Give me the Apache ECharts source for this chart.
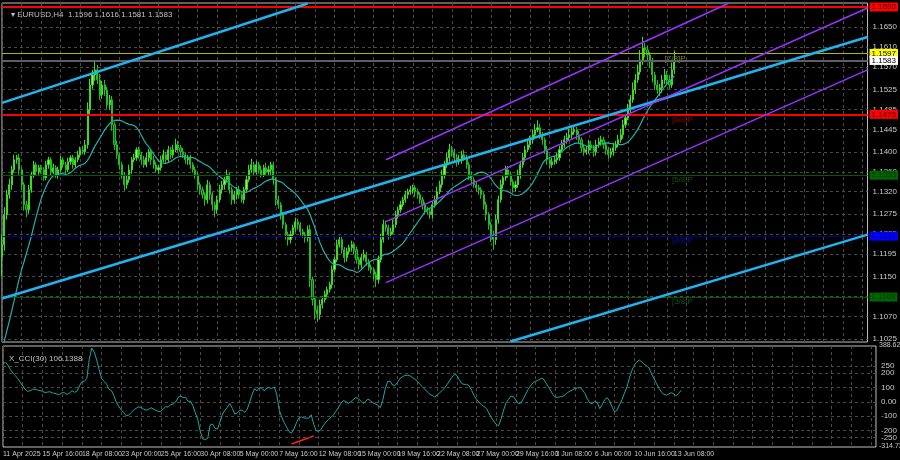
<!DOCTYPE html>
<html><head><meta charset="utf-8">
<script src="https://cdn.jsdelivr.net/npm/echarts@6/dist/echarts.min.js"></script>
<style>html,body{margin:0;padding:0;background:#000}#c{width:900px;height:460px}</style>
</head><body><div id="c"></div>
<script>
// ---- data (prices in pips, 1e-4) ----
const histCloses = [11060,11040,11000,10970,10960,10950,10940,10980,10930,10900,10920,10910,10920,10950,10940,10970,10960,10950,10960,10970,10950,10980,11010,10970,10980,11000,11020,11080,11150,11190];
const closes = [
11214,11274,11314,11334,11364,11384,11388,11364,11334,11294,11284,11324,11354,11374,11360,11368,
11364,11348,11374,11384,11360,11368,11354,11364,11384,11374,11364,11380,11388,11374,11384,11394,11404,11400,11414,
11484,11534,11554,11564,
11544,11514,11534,11524,11494,11504,11454,11414,
11394,11374,11354,11334,11344,11364,11384,11388,11404,11394,11384,11374,11388,11400,11384,11374,11364,11368,11384,11394,11384,11404,11394,
11404,11414,11408,11400,11394,11384,11388,11374,11364,11354,11334,
11324,11314,11304,11334,11314,11294,11284,11304,11324,11334,11344,11354,11324,11304,11314,
11324,11314,11304,11324,11344,11364,11374,11360,11374,11364,11354,11368,11360,11364,11374,
11344,11304,11294,11274,11254,11234,11224,11234,11248,11260,11254,11240,11234,11228,11244,
11144,11104,11084,11074,11094,11104,11114,11124,11134,11164,11184,11214,
11224,11204,11188,11200,11208,11214,11204,11184,11174,11188,11194,11180,11168,11164,11154,11144,11184,11224,
11254,11248,11234,11240,11254,11274,11284,11294,11304,11314,11320,11324,11328,11320,11314,11304,11294,11284,11280,11274,
11294,11304,11320,11334,11354,11374,11388,11404,11400,11388,11380,11384,11394,11388,11374,11354,11344,11334,11328,11324,
11314,11294,11274,11254,11234,11224,11264,11304,11334,11348,11364,
11354,11340,11328,11334,11354,11374,11388,11404,11414,11424,11434,11444,11448,11434,11424,11404,11384,11374,11380,
11384,11388,11404,11414,11424,11428,11434,11440,11444,11434,11424,11408,11400,11404,11414,11408,11400,11414,11420,11424,
11414,11404,11394,11400,11408,11414,11424,11434,11454,11468,11484,11504,11524,11544,11560,
11584,11608,11604,11594,11580,11554,11534,11524,11528,11544,11554,11544,11534,11564,11583];
const upWick = [
20,15,10,12,8,10,6,8,5,5,8,10,6,8,5,6,
6,5,8,6,5,8,5,6,8,5,6,8,5,6,5,8,6,8,10,
15,12,10,18,
10,12,8,10,6,10,8,6,
8,5,6,5,8,10,6,8,5,6,6,8,10,6,5,8,6,6,8,10,6,8,6,
10,12,8,6,8,5,6,6,5,6,5,
5,6,5,10,6,5,6,8,10,8,6,10,5,6,8,
6,8,5,6,8,10,12,6,8,6,8,6,10,8,6,
6,5,8,5,6,5,6,8,6,8,6,5,6,5,8,
10,6,5,8,10,6,8,6,6,8,6,10,
8,6,5,8,6,8,5,6,5,8,10,6,5,6,5,6,8,12,
10,8,6,8,10,8,6,8,6,8,6,8,6,5,6,5,6,5,6,6,
6,8,10,8,10,8,10,12,8,6,8,10,8,10,6,5,6,5,6,6,
5,5,6,5,6,8,10,8,10,6,8,
8,6,5,8,10,8,10,8,10,8,10,12,15,8,6,5,8,6,8,
8,10,8,10,8,10,12,10,8,6,8,5,6,8,10,8,6,10,8,8,
6,5,6,8,10,8,10,12,10,8,12,10,15,12,15,
20,22,10,8,6,8,6,10,8,10,12,8,10,15,20];
const downWick = [
40,12,10,8,10,6,8,10,10,12,15,8,6,6,8,6,
8,6,5,8,8,5,6,8,5,6,8,5,6,8,6,5,6,5,6,
8,10,8,12,
8,10,8,12,8,10,12,10,
8,10,8,12,8,6,8,5,6,8,10,6,5,8,10,8,6,8,6,5,8,6,8,
6,5,8,10,6,8,10,8,6,8,10,
10,8,12,8,10,12,15,8,6,8,10,6,8,10,8,
10,8,6,8,6,5,6,8,6,8,6,5,6,8,10,
10,12,8,10,8,10,12,8,6,8,10,8,6,10,8,
15,12,20,15,10,8,6,8,6,8,6,5,
6,8,10,8,6,8,10,8,10,8,6,8,6,8,10,15,8,6,
6,8,10,6,5,6,8,6,5,6,8,6,8,10,8,8,10,8,6,8,
8,6,8,5,6,8,6,8,10,8,10,6,8,6,8,10,8,6,8,10,
8,10,12,10,15,20,10,8,6,8,6,
6,8,10,8,6,8,6,8,5,6,8,6,5,8,10,8,10,8,6,
6,8,6,5,6,8,6,8,6,10,8,10,8,6,8,6,10,8,6,8,
8,10,8,6,8,6,5,6,8,6,5,8,6,8,6,
6,10,15,10,12,15,10,8,12,10,8,10,8,6,8];
const levels = {red1:1.1690, red2:1.1475, yellow:1.1597, bid:1.1583, m5:1.1353, m4:1.1231, m3:1.1109};
const yTicks = [1.1025,1.1070,1.1110,1.1150,1.1195,1.1235,1.1275,1.1320,1.1360,1.1400,1.1445,1.1485,1.1525,1.1570,1.1610,1.1650];
const cciTicks = [-200,-100,0,100,200];
const cciEdgeTicks = [-250,250];
// trend lines: [barIndex, price]
const cyanLines = [[[0,1.1498],[125,1.1697]],[[0,1.1106],[354,1.1630]],[[208,1.1020],[354,1.1234]]];
const purpleLines = [[[157,1.1384],[297,1.1697]],[[157,1.1260],[354,1.1688]],[[157,1.1138],[354,1.1564]]];
const cciDivLine = [[117,-294],[126,-238]];
const TOTAL = 355;

// ---- build ----
const N = closes.length;
const months=['Jan','Feb','Mar','Apr','May','Jun','Jul'];
const cats=[];
{let d=new Date(Date.UTC(2025,3,11));while(cats.length<TOTAL){const wd=d.getUTCDay();if(wd!==0&&wd!==6){for(let h=0;h<24;h+=4)cats.push(d.getUTCDate()+' '+months[d.getUTCMonth()]+' '+String(h).padStart(2,'0')+':00');}d=new Date(d.getTime()+86400000);}cats.length=TOTAL;}
cats[0]='11 Apr 2025';
const candles=[],H=[],L=[];
for(let i=0;i<N;i++){const o=(i?closes[i-1]:histCloses[histCloses.length-1])/1e4,c=closes[i]/1e4;
 const h=Math.max(o,c)+(upWick[i]||6)/1e4,l=Math.min(o,c)-(downWick[i]||6)/1e4;candles.push([o,c,l,h]);H.push(h);L.push(l);}
const allC=histCloses.map(v=>v/1e4).concat(closes.map(v=>v/1e4));
const allTP=histCloses.map(v=>v/1e4).concat(closes.map((v,i)=>(H[i]+L[i]+v/1e4)/3));
const off=histCloses.length;
const ma=[],cci=[];
for(let i=0;i<N;i++){const k=i+off;let s=0;for(let j=k-19;j<=k;j++)s+=allC[j];ma.push(+(s/20).toFixed(5));
 let t=0;for(let j=k-29;j<=k;j++)t+=allTP[j];const m=t/30;let md=0;for(let j=k-29;j<=k;j++)md+=Math.abs(allTP[j]-m);md/=30;cci.push(+((allTP[k]-m)/(0.015*md)).toFixed(2));}

const FONT='Liberation Sans';
const lab=(bg,fg)=>({show:true,position:'end',distance:2,formatter:p=>Number(p.value).toFixed(4),backgroundColor:bg,color:fg,fontSize:8,fontFamily:FONT,padding:[1,2,0,2]});
const hl=(v,col,w,bg,fg)=>({yAxis:v,lineStyle:{color:col,width:w,type:'solid'},label:lab(bg,fg)});
const seg=(pts,col,w)=>[{coord:pts[0],lineStyle:{color:col,width:w,type:'solid'}},{coord:pts[1]}];
const gridCol='#4a4a4a';
const axisTxt={color:'#c8c8c8',fontSize:8,fontFamily:FONT};
const chart=echarts.init(document.getElementById('c'));
chart.setOption({
 backgroundColor:'#000',animation:false,
 title:[{text:'▾ EURUSD,H4  1.1596 1.1616 1.1581 1.1583',left:6,top:6,textStyle:{color:'#c0c0c0',fontSize:8,fontWeight:'normal',fontFamily:FONT}},
        {text:'X_CCI(30) 106.1388',left:4,top:350,textStyle:{color:'#c0c0c0',fontSize:8,fontWeight:'normal',fontFamily:FONT}}],
 grid:[{left:2,right:23,top:3,height:339,show:true,borderColor:'#c0c0c0',borderWidth:1},
       {left:2,right:23,top:346,height:101,show:true,borderColor:'#c0c0c0',borderWidth:1}],
 xAxis:[{type:'category',data:cats,gridIndex:0,boundaryGap:false,axisLine:{show:false},axisTick:{show:false,interval:7},axisLabel:{show:false},splitLine:{show:true,interval:7,lineStyle:{color:gridCol,type:[3,3]}}},
        {type:'category',data:cats,gridIndex:1,boundaryGap:false,axisLine:{show:false},axisTick:{show:false,interval:7},
         axisLabel:{interval:15,align:'left',margin:4,showMinLabel:true,hideOverlap:false,color:'#c8c8c8',fontFamily:FONT,fontSize:7,formatter:(v,i)=>i<N?v:''},splitLine:{show:true,interval:7,lineStyle:{color:gridCol,type:[3,3]}}}],
 yAxis:[{type:'value',gridIndex:0,position:'right',min:1.1019,max:1.1698,axisLine:{show:false},
         axisTick:{show:false,customValues:yTicks},axisLabel:{customValues:yTicks,hideOverlap:false,formatter:v=>v.toFixed(4),margin:5,...axisTxt},splitLine:{show:true,lineStyle:{color:gridCol,type:[3,3]}}},
        {type:'value',gridIndex:1,position:'right',min:-314.734,max:388.6237,axisLine:{show:false},
         axisTick:{show:false,customValues:cciTicks},axisLabel:{customValues:cciTicks,hideOverlap:false,formatter:v=>v===0?'0.00':String(v),margin:5,...axisTxt},splitLine:{show:true,lineStyle:{color:gridCol,type:[3,3]}}}],
 graphic:[{type:'text',left:879,top:342,style:{text:'388.6237',fill:'#c8c8c8',font:'7px Liberation Sans'}},
          {type:'text',left:879,top:443,style:{text:'-314.734',fill:'#c8c8c8',font:'7px Liberation Sans'}}],
 series:[
  {type:'candlestick',xAxisIndex:0,yAxisIndex:0,data:candles,barWidth:1.6,
   itemStyle:{color:'#8cff4a',color0:'#0b6b0b',borderColor:'#3cdc1e',borderColor0:'#1fc01f',borderWidth:1},
   markLine:{symbol:'none',silent:true,animation:false,precision:4,data:[
     hl(levels.red1,'#ff0000',2,'#ff0000','#400000'),
     hl(levels.red2,'#ff0000',2,'#ff0000','#400000'),
     hl(levels.yellow,'#b4b400',1,'#ffff00','#000'),
     hl(levels.bid,'#606060',2,'#ffffff','#000'),
     hl(levels.m5,'#005a00',1,'#006400','#003000'),
     hl(levels.m4,'#00008c',1,'#0000ff','#000060'),
     hl(levels.m3,'#005a00',1,'#006400','#003000')]}},
  {type:'line',xAxisIndex:0,yAxisIndex:0,data:ma,showSymbol:false,lineStyle:{color:'#20b2aa',width:1.2},z:3,
   markLine:{symbol:'none',silent:true,precision:4,label:{show:false},data:[...cyanLines.map(p=>seg(p,'#1eb4f0',2.5)),...purpleLines.map(p=>seg(p,'#9932ff',1.5))]}},
  {type:'scatter',xAxisIndex:0,yAxisIndex:0,symbolSize:0,silent:true,
   data:[{value:[271,1.1597],name:'[7/8]P',c:'#a0a000'},{value:[274,1.1475],name:'[6/8]P',c:'#b00000'},{value:[274,1.1353],name:'[5/8]P',c:'#1a6a1a'},{value:[274,1.1231],name:'[4/8]P',c:'#1010c0'},{value:[274,1.1109],name:'[3/8]P',c:'#1a6a1a'}].map(d=>({value:d.value,name:d.name,label:{color:d.c}})),
   label:{show:true,position:'right',distance:0,offset:[0,5],formatter:p=>p.name,fontSize:8,fontFamily:FONT}},
  {type:'line',xAxisIndex:1,yAxisIndex:1,data:cci,showSymbol:false,lineStyle:{color:'#1fa5a5',width:1},
   markLine:{symbol:'none',silent:true,precision:2,label:{show:false},data:[seg(cciDivLine,'#ff2020',1.5),
     ...cciEdgeTicks.map(v=>({yAxis:v,lineStyle:{color:gridCol,width:1,type:[3,3]},label:{show:true,position:'end',distance:5,formatter:String(v),...axisTxt}}))]}}
 ]
});
</script></body></html>
